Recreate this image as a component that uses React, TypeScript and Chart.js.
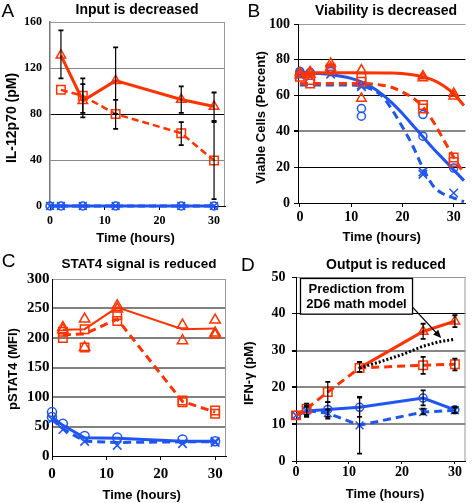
import React, { useEffect, useRef } from 'react';
import { Chart, registerables } from 'chart.js';
Chart.register(...registerables);

const RED = '#ff3300';
const BLUE = '#1f55f0';

// ---------- Panel A : IL-12p70 ----------
const aTimes = [2, 6, 12, 24, 30];
const aTriangle = [131, 91.5, 109, 92.6, 86.5];
const aTriangleLow = [111, 77, 80, 81, 74];
const aTriangleHigh = [152.7, 106, 138, 104, 98.7];
const aSquare = [101, 95.8, 80, 63.3, 39.5];
const aSquareLow = [101, 81, 67, 53, 6];
const aSquareHigh = [101, 111, 92.3, 73, 73];
const aBlueTimes = [0, 2, 6, 12, 24, 30];
const aCircle = [0, 0, 0, 0, 0, 0];
const aCross = [0, 0, 0, 0, 0, 0];

// ---------- Panel B : viability ----------
const bTriT = [0, 0, 2, 2, 6, 6, 12, 12, 24, 24, 30, 30];
const bTriV = [72.8, 71.5, 73.3, 71.8, 78, 75.7, 74.3, 58.4, 70.9, 69.8, 61.2, 59.7];
const bSqT = [0, 2, 2, 6, 6, 12, 12, 24, 24, 30, 30];
const bSqV = [70.5, 68.7, 66.8, 75.2, 74.3, 70, 67.7, 54.7, 52.8, 25.4, 22.9];
const bCirT = [0, 0, 2, 6, 12, 12, 24, 24, 30];
const bCirV = [73.5, 72.5, 73, 73.5, 52.8, 48.5, 49.4, 37.3, 19.5];
const bCrsT = [0, 2, 6, 12, 12, 24, 24, 30];
const bCrsV = [71.5, 70.5, 72, 65.9, 65, 17.4, 16, 5.6];
const bRedFitT = [0, 10, 18, 22, 24, 26, 28, 30, 32];
const bRedFitV = [72.8, 72.8, 72.6, 71.6, 70.5, 68.6, 65.5, 61, 54.5];
const bRedDashT = [0, 12, 16, 18, 20, 22, 24, 26, 28, 30, 32];
const bRedDashV = [66.8, 66.8, 65.8, 64.5, 62, 58.8, 53.6, 45.5, 35.5, 25.5, 16.5];
const bBlueFitT = [0, 4, 8, 10, 12, 14, 16, 18, 20, 22, 24, 26, 28, 30, 32];
const bBlueFitV = [72.8, 72.3, 70.8, 69.6, 67.7, 64.8, 60.8, 55.8, 50, 43.5, 37, 30.5, 24.5, 18.5, 12.5];
const bBlueDashT = [0, 10, 12, 14, 16, 18, 20, 22, 24, 26, 28, 30, 32];
const bBlueDashV = [65.9, 65.9, 65.5, 63.5, 59.8, 52, 42.5, 32, 19.5, 9.5, 5, 2.8, 0.7];

// ---------- Panel C : pSTAT4 ----------
const cTriT = [2, 2, 6, 6, 12, 12, 24, 24, 30, 30, 30];
const cTriV = [218, 214, 232, 184, 254.6, 249, 222, 195.5, 230.4, 208.5, 205];
const cSqT = [2, 2, 6, 6, 12, 12, 24, 24, 30, 30];
const cSqV = [210.7, 200, 215, 184, 239, 229, 94, 91, 77, 71.5];
const cCirT = [0, 0, 2, 6, 12, 24, 30];
const cCirV = [74.4, 66, 54.6, 33.8, 31.5, 28, 25];
const cCrsT = [0, 2, 6, 12, 24, 30, 30];
const cCrsV = [62, 45, 24.8, 18, 21, 25, 23];
const cRedT = [2, 6, 12, 24, 30];
const cRedSolid = [214, 215, 252, 215, 216];
const cRedDashed = [205, 207, 232, 92.4, 74.4];
const cBlueT = [0, 2, 6, 12, 24, 30];
const cBlueSolid = [66, 52, 31, 30, 25, 25];
const cBlueDashed = [62, 46, 25, 23, 24, 24];

// ---------- Panel D : IFN-gamma ----------
const dTimes = [0, 2, 6, 12, 24, 30];
const dSquare = [12.4, 14.2, 18.75, 25.3, 26, 26.3];
const dSquareLow = [12.4, 12.2, 16, 24.2, 23.7, 24.6];
const dSquareHigh = [12.4, 15.6, 21.5, 26.9, 28.3, 27.8];
const dTriT = [12, 24, 30];
const dTriangle = [25.3, 35.2, 38];
const dTriangleLow = [25.3, 33.2, 36.4];
const dTriangleHigh = [25.3, 37.3, 39.6];
const dCircle = [12.4, 13.6, 14, 14.6, 17.1, 13.9];
const dCircleLow = [12.4, 12, 11.5, 12, 15.1, 13.1];
const dCircleHigh = [12.4, 15, 16, 17.4, 19.2, 14.7];
const dCross = [12.4, 13.7, 13, 9.7, 13.3, 13.8];
const dCrossLow = [12.4, 12.5, 12, 2, 12.7, 13];
const dCrossHigh = [12.4, 14.8, 14, 17.2, 14.2, 14.5];
const dModelT = [12, 16, 20, 24, 27, 30];
const dModel = [25.3, 27, 28.9, 31.2, 32.4, 33.1];
const dNoteLines = ['Prediction from', '2D6 math model'];
// annotation box & arrow, in data units (hours, pM)
const dNoteBox = { x0: 0.85, y0: 49.6, x1: 22.0, y1: 39.9 };
const dArrow = { x0: 22.0, y0: 41.8, x1: 27.4, y1: 33.4 };

const SANS = '"Liberation Sans", Arial, sans-serif';
const SERIF = '"Liberation Serif", "Times New Roman", serif';

const pts = (xs: number[], ys: number[]) => xs.map((x, i) => ({ x, y: ys[i] }));

function ds(data: any[], color: string, o: any = {}) {
  return {
    data,
    borderColor: color,
    backgroundColor: 'rgba(0,0,0,0)',
    borderWidth: o.width ?? 3,
    borderDash: o.dash ?? [],
    showLine: o.line ?? true,
    pointStyle: o.style ?? 'circle',
    pointRadius: o.radius ?? 0,
    pointBorderWidth: 1.5,
    pointBorderColor: color,
    pointBackgroundColor: 'rgba(0,0,0,0)',
    tension: 0,
    cubicInterpolationMode: o.smooth ? 'monotone' : 'default',
    clip: false,
    errLow: o.low,
    errHigh: o.high,
  };
}

const errorBars = {
  id: 'errorBars',
  afterDatasetsDraw(chart: any) {
    const ctx = chart.ctx;
    const xs = chart.scales.x;
    const ys = chart.scales.y;
    ctx.save();
    ctx.strokeStyle = '#000';
    chart.data.datasets.forEach((d: any) => {
      if (!d.errLow) return;
      d.data.forEach((p: any, i: number) => {
        const lo = d.errLow[i];
        const hi = d.errHigh[i];
        if (lo === hi) return;
        const x = xs.getPixelForValue(p.x);
        const y0 = ys.getPixelForValue(lo);
        const y1 = ys.getPixelForValue(hi);
        ctx.lineWidth = 1.2;
        ctx.beginPath();
        ctx.moveTo(x, y0);
        ctx.lineTo(x, y1);
        ctx.stroke();
        ctx.lineWidth = 1.8;
        ctx.beginPath();
        ctx.moveTo(x - 2.5, y0);
        ctx.lineTo(x + 2.5, y0);
        ctx.moveTo(x - 2.5, y1);
        ctx.lineTo(x + 2.5, y1);
        ctx.stroke();
      });
    });
    ctx.restore();
  },
};

function textPlugin(t: any) {
  return {
    id: 'panelText',
    afterDraw(chart: any) {
      const ctx = chart.ctx;
      const a = chart.chartArea;
      ctx.save();
      if (t.rightBorder) {
        ctx.strokeStyle = '#999';
        ctx.lineWidth = 1;
        ctx.beginPath();
        ctx.moveTo(a.right - 0.5, a.top);
        ctx.lineTo(a.right - 0.5, a.bottom);
        ctx.stroke();
      }
      ctx.fillStyle = '#000';
      ctx.textBaseline = 'alphabetic';
      ctx.textAlign = 'left';
      ctx.font = `19px ${SANS}`;
      ctx.fillText(t.letter, t.letterX, t.letterY);
      ctx.textAlign = 'center';
      ctx.font = `bold ${t.titleSize}px ${SANS}`;
      ctx.fillText(t.title, t.titleX, t.titleY);
      ctx.font = `bold 13px ${SANS}`;
      ctx.fillText('Time (hours)', t.xTitleX, t.xTitleY);
      ctx.translate(t.yTitleX, t.yTitleY);
      ctx.rotate(-Math.PI / 2);
      ctx.textBaseline = 'middle';
      ctx.font = `bold ${t.yTitleSize}px ${SANS}`;
      ctx.fillText(t.yTitle, 0, 0);
      ctx.restore();
    },
  };
}

const noteLabel = {
  id: 'noteLabel',
  afterDatasetsDraw(chart: any) {
    const o = chart.options.plugins.noteLabel;
    if (!o || !o.enabled) return;
    const ctx = chart.ctx;
    const xs = chart.scales.x;
    const ys = chart.scales.y;
    const bx0 = xs.getPixelForValue(dNoteBox.x0);
    const bx1 = xs.getPixelForValue(dNoteBox.x1);
    const by0 = ys.getPixelForValue(dNoteBox.y0);
    const by1 = ys.getPixelForValue(dNoteBox.y1);
    ctx.save();
    ctx.fillStyle = '#fff';
    ctx.fillRect(bx0, by0, bx1 - bx0, by1 - by0);
    ctx.strokeStyle = '#000';
    ctx.lineWidth = 1.3;
    ctx.strokeRect(bx0, by0, bx1 - bx0, by1 - by0);
    ctx.fillStyle = '#000';
    ctx.font = `bold 13px ${SANS}`;
    ctx.textAlign = 'center';
    ctx.textBaseline = 'middle';
    const cx = (bx0 + bx1) / 2;
    const h = by1 - by0;
    dNoteLines.forEach((l, i) => ctx.fillText(l, cx, by0 + h * (i === 0 ? 0.3 : 0.72)));
    const ax0 = xs.getPixelForValue(dArrow.x0);
    const ay0 = ys.getPixelForValue(dArrow.y0);
    const ax1 = xs.getPixelForValue(dArrow.x1);
    const ay1 = ys.getPixelForValue(dArrow.y1);
    const ang = Math.atan2(ay1 - ay0, ax1 - ax0);
    ctx.lineWidth = 1.3;
    ctx.beginPath();
    ctx.moveTo(ax0, ay0);
    ctx.lineTo(ax1 - 5 * Math.cos(ang), ay1 - 5 * Math.sin(ang));
    ctx.stroke();
    ctx.beginPath();
    ctx.moveTo(ax1, ay1);
    ctx.lineTo(ax1 - 8 * Math.cos(ang) + 3.5 * Math.sin(ang), ay1 - 8 * Math.sin(ang) - 3.5 * Math.cos(ang));
    ctx.lineTo(ax1 - 8 * Math.cos(ang) - 3.5 * Math.sin(ang), ay1 - 8 * Math.sin(ang) + 3.5 * Math.cos(ang));
    ctx.closePath();
    ctx.fill();
    ctx.restore();
  },
};

function makeConfig(p: any) {
  return {
    type: 'line',
    data: { datasets: p.datasets },
    options: {
      animation: false,
      responsive: false,
      maintainAspectRatio: false,
      devicePixelRatio: 1,
      events: [],
      layout: { padding: p.padding },
      plugins: {
        legend: { display: false },
        tooltip: { enabled: false },
        title: { display: false },
        noteLabel: { enabled: !!p.note },
      },
      scales: {
        x: {
          type: 'linear',
          min: p.xMin,
          max: p.xMax,
          afterFit: (s: any) => {
            s.height = 30;
          },
          ticks: {
            stepSize: 10,
            includeBounds: false,
            autoSkip: false,
            maxRotation: 0,
            color: '#000',
            padding: p.xTickPad,
            font: { family: SERIF, weight: 'bold', size: p.xTickSize },
          },
          grid: {
            drawOnChartArea: false,
            drawTicks: true,
            tickLength: p.xTickLen,
            tickColor: '#000',
            tickWidth: 1,
          },
          border: { color: '#000', width: 1 },
        },
        y: {
          min: 0,
          max: p.yMax,
          afterFit: (s: any) => {
            s.width = p.yWidth;
          },
          ticks: {
            stepSize: p.yStep,
            includeBounds: false,
            color: '#000',
            padding: p.yTickPad,
            font: { family: SERIF, weight: 'bold', size: p.yTickSize },
          },
          grid: {
            drawTicks: p.yTickLen > 0,
            tickLength: p.yTickLen,
            tickColor: '#000',
            color: (c: any) => p.gridColor[Math.round(c.tick.value / p.yStep)] ?? '#888',
            lineWidth: (c: any) => p.gridWidth[Math.round(c.tick.value / p.yStep)] ?? 1,
          },
          border: { color: p.leftColor, width: p.leftWidth },
        },
      },
    },
    plugins: [errorBars, noteLabel, textPlugin(p.text)],
  };
}

const panelA = () =>
  makeConfig({
    padding: { left: 0, top: 22, right: 11, bottom: 14 },
    xMin: 0, xMax: 32, xTickPad: 3.5, xTickSize: 12, xTickLen: 4,
    yMax: 160, yStep: 40, yWidth: 50, yTickPad: 8, yTickLen: 0, yTickSize: 12,
    gridColor: ['#000', '#888', '#000', '#888', '#999'],
    gridWidth: [1, 1, 1, 1, 1],
    leftColor: '#777', leftWidth: 1.5,
    text: {
      letter: 'A', letterX: 1.5, letterY: 16.7,
      title: 'Input is decreased', titleX: 137, titleY: 13.5, titleSize: 14,
      xTitleX: 135.5, xTitleY: 241.5,
      yTitle: 'IL-12p70 (pM)', yTitleX: 12.5, yTitleY: 118, yTitleSize: 14,
      rightBorder: true,
    },
    datasets: [
      ds(pts(aTimes, aTriangle), RED, { style: 'triangle', radius: 5.5, low: aTriangleLow, high: aTriangleHigh }),
      ds(pts(aTimes, aSquare), RED, { style: 'rect', radius: 6, dash: [7, 4], width: 2.5, low: aSquareLow, high: aSquareHigh }),
      ds(pts(aBlueTimes, aCircle), BLUE, { style: 'circle', radius: 4 }),
      ds(pts(aBlueTimes, aCross), BLUE, { style: 'crossRot', radius: 5.5, dash: [7, 4] }),
    ],
  });

const panelB = () =>
  makeConfig({
    padding: { left: 0, top: 24, right: 0, bottom: 17 },
    xMin: -0.37, xMax: 32.3, xTickPad: 2, xTickSize: 14, xTickLen: 4,
    yMax: 100, yStep: 20, yWidth: 62, yTickPad: 4, yTickLen: 4, yTickSize: 14,
    gridColor: ['#000', '#000', '#888', '#000', '#000', '#999'],
    gridWidth: [1, 1, 2, 1, 1, 1],
    leftColor: '#000', leftWidth: 1,
    text: {
      letter: 'B', letterX: 11.5, letterY: 16.7,
      title: 'Viability is decreased', titleX: 150, titleY: 14.5, titleSize: 14,
      xTitleX: 145.7, xTitleY: 240.7,
      yTitle: 'Viable Cells (Percent)', yTitleX: 25, yTitleY: 117.5, yTitleSize: 13,
      rightBorder: false,
    },
    datasets: [
      ds(pts(bTriT, bTriV), RED, { style: 'triangle', radius: 5.5, line: false }),
      ds(pts(bSqT, bSqV), RED, { style: 'rect', radius: 6, line: false }),
      ds(pts(bCirT, bCirV), BLUE, { style: 'circle', radius: 4, line: false }),
      ds(pts(bCrsT, bCrsV), BLUE, { style: 'crossRot', radius: 6, line: false }),
      ds(pts(bRedFitT, bRedFitV), RED, { smooth: true }),
      ds(pts(bRedDashT, bRedDashV), RED, { smooth: true, dash: [8, 5] }),
      ds(pts(bBlueFitT, bBlueFitV), BLUE, { smooth: true }),
      ds(pts(bBlueDashT, bBlueDashV), BLUE, { smooth: true, dash: [8, 5] }),
    ],
  });

const panelC = () =>
  makeConfig({
    padding: { left: 0, top: 29, right: 10, bottom: 17 },
    xMin: 0, xMax: 32, xTickPad: 5, xTickSize: 15, xTickLen: 4,
    yMax: 300, yStep: 50, yWidth: 52, yTickPad: 2.5, yTickLen: 0, yTickSize: 15,
    gridColor: ['#000', '#808080', '#808080', '#808080', '#808080', '#808080', '#999'],
    gridWidth: [1, 2, 2, 2, 2, 2, 1],
    leftColor: '#000', leftWidth: 1,
    text: {
      letter: 'C', letterX: 1.7, letterY: 17.3,
      title: 'STAT4 signal is reduced', titleX: 139, titleY: 18.3, titleSize: 13.5,
      xTitleX: 141.7, xTitleY: 249,
      yTitle: 'pSTAT4 (MFI)', yTitleX: 13.3, yTitleY: 119, yTitleSize: 13,
      rightBorder: true,
    },
    datasets: [
      ds(pts(cTriT, cTriV), RED, { style: 'triangle', radius: 6, line: false }),
      ds(pts(cSqT, cSqV), RED, { style: 'rect', radius: 6, line: false }),
      ds(pts(cRedT, cRedSolid), RED, { width: 2 }),
      ds(pts(cRedT, cRedDashed), RED, { width: 3, dash: [8, 5] }),
      ds(pts(cCirT, cCirV), BLUE, { style: 'circle', radius: 4.5, line: false }),
      ds(pts(cCrsT, cCrsV), BLUE, { style: 'crossRot', radius: 6, line: false }),
      ds(pts(cBlueT, cBlueSolid), BLUE, { width: 3 }),
      ds(pts(cBlueT, cBlueDashed), BLUE, { width: 3, dash: [8, 5] }),
    ],
  });

const panelD = () =>
  makeConfig({
    padding: { left: 0, top: 27, right: 1, bottom: 12 },
    xMin: 0, xMax: 32, xTickPad: 0, xTickSize: 14, xTickLen: 3,
    yMax: 50, yStep: 10, yWidth: 60, yTickPad: 6.5, yTickLen: 4, yTickSize: 14,
    gridColor: ['#000', '#888', '#888', '#888', '#000', '#999'],
    gridWidth: [1, 2, 2, 2, 1, 1],
    leftColor: '#000', leftWidth: 1,
    note: true,
    text: {
      letter: 'D', letterX: 5, letterY: 20.7,
      title: 'Output is reduced', titleX: 150, titleY: 19.3, titleSize: 14,
      xTitleX: 149, xTitleY: 248.3,
      yTitle: 'IFN-γ (pM)', yTitleX: 13.3, yTitleY: 123.3, yTitleSize: 13,
      rightBorder: true,
    },
    datasets: [
      ds(pts(dModelT, dModel), '#000', { width: 3, dash: [2, 2] }),
      ds(pts(dTriT, dTriangle), RED, { style: 'triangle', radius: [0, 5.5, 5.5], low: dTriangleLow, high: dTriangleHigh }),
      ds(pts(dTimes, dSquare), RED, { style: 'rect', radius: 6, dash: [8, 5], low: dSquareLow, high: dSquareHigh }),
      ds(pts(dTimes, dCircle), BLUE, { style: 'circle', radius: 4, low: dCircleLow, high: dCircleHigh }),
      ds(pts(dTimes, dCross), BLUE, { style: 'crossRot', radius: 5.5, dash: [8, 5], low: dCrossLow, high: dCrossHigh }),
    ],
  });

function Panel(props: { make: () => any; left: number; top: number; width: number; height: number }) {
  const ref = useRef<HTMLCanvasElement>(null);
  useEffect(() => {
    const chart = new Chart(ref.current as HTMLCanvasElement, props.make());
    return () => chart.destroy();
  }, []);
  return (
    <canvas
      ref={ref}
      width={props.width}
      height={props.height}
      style={{ position: 'absolute', left: props.left, top: props.top, width: props.width, height: props.height }}
    />
  );
}

export default function App() {
  return (
    <div style={{ position: 'fixed', left: 0, top: 0, width: 473, height: 503, background: '#fff', overflow: 'hidden' }}>
      <Panel make={panelA} left={0} top={0} width={236} height={250} />
      <Panel make={panelB} left={236} top={0} width={237} height={250} />
      <Panel make={panelC} left={0} top={250} width={236} height={253} />
      <Panel make={panelD} left={236} top={250} width={237} height={253} />
    </div>
  );
}
